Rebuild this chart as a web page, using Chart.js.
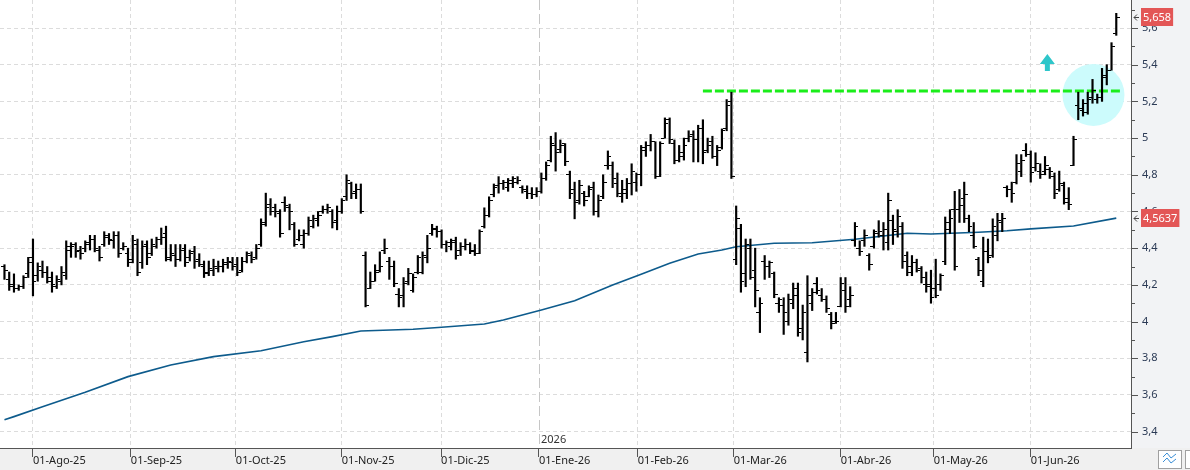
<html lang="es">
<head>
  <meta charset="utf-8">
  <script src="https://cdn.jsdelivr.net/npm/chart.js@4.4.1/dist/chart.umd.min.js"></script>
  <style>
    body { margin: 0; background: #fff; }
    canvas { display: block; }
  </style>
</head>
<body>
  <canvas id="price-chart" width="1190" height="470"></canvas>
<script>
  // daily bars, index 0 = first session of August 2025
  const firstIndex = -6;

  const opens = [
    4.30, 4.23, 4.20, 4.18, 4.19, 4.26,
    4.35, 4.25, 4.28, 4.27, 4.24, 4.19, 4.22, 4.25, 4.39, 4.42,
    4.39, 4.40, 4.43, 4.45, 4.39, 4.42, 4.46, 4.44, 4.47, 4.40,
    4.37, 4.34, 4.42, 4.32, 4.42, 4.37, 4.41, 4.45, 4.48, 4.35,
    4.36, 4.34, 4.40, 4.35, 4.38, 4.34, 4.30, 4.27, 4.28, 4.29,
    4.30, 4.31, 4.32, 4.31, 4.28, 4.33, 4.36, 4.35, 4.42, 4.54,
    4.64, 4.62, 4.59, 4.65, 4.62, 4.53, 4.45, 4.42, 4.48, 4.52,
    4.55, 4.60, 4.61, 4.60, 4.55, 4.60, 4.68, 4.75, 4.71, 4.72,
    4.36, 4.18, 4.22, 4.28, 4.39, 4.33, 4.30, 4.15, 4.14, 4.22,
    4.17, 4.27, 4.27, 4.35, 4.48, 4.50, 4.49, 4.42, 4.41, 4.44,
    4.39, 4.41, 4.42, 4.38, 4.37, 4.52, 4.58, 4.69, 4.74, 4.75,
    4.73, 4.75, 4.76, 4.73, 4.71, 4.70, 4.69, 4.71, 4.78, 4.88,
    4.96, 4.94, 4.97, 4.80, 4.72, 4.66, 4.70, 4.68, 4.73, 4.60,
    4.68, 4.85, 4.85, 4.75, 4.68, 4.70, 4.75, 4.76, 4.80, 4.95,
    4.96, 4.98, 4.79, 5.00, 5.10, 4.97, 4.88, 4.90, 5.00, 5.02,
    4.99, 5.05, 4.93, 4.98, 4.90, 4.95, 5.05, 5.20,
    4.34, 4.51, 4.26, 4.40, 4.28, 4.05, 4.33, 4.30, 4.26, 4.10,
    4.09, 4.00, 4.10, 4.14, 3.96, 3.83, 4.10, 4.21, 4.14, 4.12,
    4.04, 4.00, 4.08, 4.17, 4.12,
    4.44, 4.40, 4.44, 4.36, 4.41, 4.48, 4.47, 4.43, 4.55, 4.49,
    4.52, 4.36, 4.27, 4.32, 4.29, 4.20, 4.20, 4.18, 4.20, 4.33,
    4.54, 4.61, 4.61, 4.67, 4.56, 4.47, 4.34, 4.22, 4.38, 4.36, 4.47, 4.54,
    4.73, 4.72, 4.76, 4.82, 4.93, 4.91, 4.84, 4.82, 4.82, 4.83, 4.79, 4.72, 4.74, 4.65, 4.85,
    5.18, 5.15, 5.14, 5.22, 5.21, 5.22, 5.33, 5.37, 5.57
  ];

  const highs = [
    4.31, 4.27, 4.26, 4.20, 4.25, 4.35,
    4.45, 4.32, 4.33, 4.30, 4.27, 4.25, 4.30, 4.44, 4.43, 4.43,
    4.41, 4.44, 4.47, 4.47, 4.41, 4.49, 4.48, 4.49, 4.49, 4.43,
    4.40, 4.47, 4.45, 4.44, 4.44, 4.45, 4.46, 4.51, 4.52, 4.42,
    4.42, 4.42, 4.42, 4.39, 4.41, 4.37, 4.33, 4.33, 4.34, 4.33,
    4.34, 4.35, 4.35, 4.35, 4.35, 4.38, 4.38, 4.42, 4.56, 4.70,
    4.67, 4.64, 4.61, 4.68, 4.64, 4.54, 4.50, 4.50, 4.57, 4.58,
    4.60, 4.63, 4.64, 4.61, 4.63, 4.67, 4.80, 4.76, 4.75, 4.75,
    4.38, 4.27, 4.31, 4.38, 4.45, 4.35, 4.33, 4.18, 4.24, 4.29,
    4.26, 4.36, 4.38, 4.47, 4.53, 4.52, 4.50, 4.44, 4.45, 4.46,
    4.43, 4.45, 4.43, 4.42, 4.50, 4.62, 4.68, 4.75, 4.79, 4.77,
    4.78, 4.79, 4.79, 4.74, 4.74, 4.73, 4.73, 4.81, 4.87, 5.01,
    5.03, 4.99, 4.97, 4.82, 4.76, 4.77, 4.71, 4.74, 4.76, 4.69,
    4.80, 4.93, 4.87, 4.81, 4.77, 4.78, 4.86, 4.81, 4.96, 4.98,
    5.02, 4.98, 4.98, 5.11, 5.11, 4.99, 4.96, 5.00, 5.04, 5.04,
    5.07, 5.10, 5.00, 5.01, 4.96, 5.05, 5.21, 5.25,
    4.63, 4.53, 4.45, 4.45, 4.40, 4.13, 4.36, 4.33, 4.27, 4.13,
    4.13, 4.15, 4.21, 4.21, 4.09, 4.25, 4.18, 4.24, 4.18, 4.14,
    4.05, 4.05, 4.24, 4.24, 4.19,
    4.54, 4.44, 4.50, 4.37, 4.50, 4.55, 4.54, 4.70, 4.58, 4.61,
    4.54, 4.38, 4.36, 4.34, 4.30, 4.27, 4.28, 4.34, 4.26, 4.57,
    4.61, 4.71, 4.72, 4.76, 4.58, 4.54, 4.35, 4.46, 4.45, 4.56, 4.59, 4.59,
    4.74, 4.76, 4.91, 4.91, 4.97, 4.93, 4.92, 4.86, 4.90, 4.84, 4.81, 4.82, 4.76, 4.73, 5.01,
    5.25, 5.21, 5.25, 5.32, 5.24, 5.38, 5.40, 5.52, 5.68
  ];

  const lows = [
    4.23, 4.17, 4.16, 4.17, 4.18, 4.24,
    4.14, 4.22, 4.24, 4.21, 4.16, 4.18, 4.20, 4.23, 4.35, 4.35,
    4.34, 4.38, 4.39, 4.38, 4.33, 4.41, 4.42, 4.40, 4.35, 4.39,
    4.30, 4.32, 4.25, 4.29, 4.31, 4.36, 4.40, 4.42, 4.33, 4.33,
    4.30, 4.33, 4.30, 4.33, 4.29, 4.30, 4.24, 4.25, 4.25, 4.27,
    4.27, 4.29, 4.28, 4.25, 4.27, 4.32, 4.32, 4.34, 4.41, 4.52,
    4.58, 4.57, 4.46, 4.60, 4.50, 4.41, 4.44, 4.40, 4.47, 4.51,
    4.52, 4.59, 4.59, 4.51, 4.50, 4.59, 4.66, 4.67, 4.67, 4.59,
    4.08, 4.18, 4.22, 4.27, 4.37, 4.23, 4.19, 4.08, 4.08, 4.20,
    4.16, 4.26, 4.26, 4.32, 4.47, 4.46, 4.40, 4.38, 4.39, 4.34,
    4.36, 4.39, 4.37, 4.36, 4.37, 4.51, 4.57, 4.68, 4.70, 4.72,
    4.71, 4.73, 4.75, 4.70, 4.67, 4.67, 4.68, 4.70, 4.77, 4.87,
    4.82, 4.92, 4.85, 4.67, 4.56, 4.64, 4.63, 4.68, 4.58, 4.57,
    4.67, 4.83, 4.73, 4.68, 4.65, 4.67, 4.69, 4.71, 4.74, 4.90,
    4.93, 4.78, 4.79, 5.00, 4.97, 4.86, 4.87, 4.88, 4.98, 4.87,
    4.87, 4.86, 4.92, 4.89, 4.85, 4.94, 5.04, 4.78,
    4.31, 4.16, 4.19, 4.23, 4.08, 3.94, 4.23, 4.24, 4.13, 4.05,
    3.93, 3.98, 4.07, 3.92, 3.90, 3.78, 4.06, 4.15, 4.11, 4.05,
    3.96, 3.99, 4.08, 4.05, 4.08,
    4.41, 4.36, 4.41, 4.28, 4.40, 4.46, 4.39, 4.39, 4.42, 4.46,
    4.29, 4.25, 4.25, 4.27, 4.21, 4.16, 4.10, 4.13, 4.17, 4.31,
    4.48, 4.28, 4.54, 4.54, 4.49, 4.40, 4.25, 4.19, 4.32, 4.35, 4.44, 4.49,
    4.68, 4.65, 4.75, 4.79, 4.90, 4.76, 4.82, 4.78, 4.80, 4.78, 4.67, 4.71, 4.64, 4.61, 4.85,
    5.10, 5.12, 5.13, 5.19, 5.19, 5.20, 5.29, 5.37, 5.56
  ];

  const closes = [
    4.28, 4.19, 4.18, 4.19, 4.24, 4.32,
    4.22, 4.30, 4.27, 4.22, 4.20, 4.23, 4.27, 4.41, 4.41, 4.38,
    4.37, 4.42, 4.45, 4.40, 4.35, 4.47, 4.45, 4.47, 4.37, 4.41,
    4.32, 4.44, 4.27, 4.41, 4.35, 4.42, 4.45, 4.46, 4.34, 4.37,
    4.34, 4.39, 4.32, 4.37, 4.33, 4.31, 4.26, 4.29, 4.30, 4.30,
    4.32, 4.33, 4.30, 4.27, 4.33, 4.37, 4.34, 4.40, 4.53, 4.62,
    4.60, 4.60, 4.48, 4.63, 4.60, 4.42, 4.47, 4.48, 4.55, 4.56,
    4.58, 4.61, 4.62, 4.54, 4.60, 4.66, 4.77, 4.70, 4.72, 4.60,
    4.09, 4.22, 4.27, 4.30, 4.40, 4.30, 4.21, 4.13, 4.21, 4.26,
    4.24, 4.35, 4.36, 4.40, 4.51, 4.49, 4.42, 4.43, 4.43, 4.36,
    4.41, 4.42, 4.39, 4.37, 4.49, 4.58, 4.66, 4.73, 4.75, 4.76,
    4.77, 4.78, 4.77, 4.72, 4.70, 4.69, 4.71, 4.78, 4.85, 4.97,
    4.92, 4.96, 4.87, 4.70, 4.65, 4.74, 4.66, 4.72, 4.60, 4.66,
    4.76, 4.90, 4.78, 4.70, 4.72, 4.75, 4.82, 4.80, 4.93, 4.96,
    4.98, 4.79, 4.97, 5.08, 4.99, 4.88, 4.92, 4.96, 5.01, 4.99,
    5.05, 4.92, 4.96, 4.90, 4.93, 5.04, 5.18, 4.79,
    4.56, 4.22, 4.42, 4.24, 4.17, 4.10, 4.30, 4.32, 4.15, 4.12,
    4.05, 4.12, 4.18, 3.94, 4.05, 4.14, 4.16, 4.17, 4.12, 4.07,
    3.99, 4.00, 4.21, 4.08, 4.14,
    4.52, 4.38, 4.47, 4.31, 4.49, 4.49, 4.50, 4.66, 4.50, 4.57,
    4.33, 4.30, 4.32, 4.28, 4.24, 4.19, 4.13, 4.14, 4.25, 4.50,
    4.56, 4.30, 4.63, 4.69, 4.52, 4.41, 4.28, 4.38, 4.35, 4.52, 4.55, 4.56,
    4.72, 4.70, 4.86, 4.88, 4.91, 4.81, 4.86, 4.80, 4.85, 4.82, 4.70, 4.75, 4.67, 4.64, 4.99,
    5.16, 5.19, 5.21, 5.26, 5.22, 5.34, 5.37, 5.50, 5.658
  ];

  // moving average, read at a few sessions
  const maIndex  = [-6, -4, 2, 11, 20, 29, 38, 48, 57, 63, 69, 80, 86, 95, 99, 107, 114, 122, 128, 134, 140, 145, 148, 156, 164, 173, 184, 189, 199, 205, 210, 219, 228];
  const maValues = [3.465, 3.482, 3.536, 3.615, 3.700, 3.763, 3.809, 3.841, 3.890, 3.918, 3.949, 3.958, 3.969, 3.987, 4.009, 4.063, 4.114, 4.199, 4.258, 4.318, 4.368, 4.390, 4.408, 4.427, 4.430, 4.449, 4.481, 4.477, 4.487, 4.495, 4.505, 4.521, 4.5637];

  const monthLabels  = ['01-Ago-25', '01-Sep-25', '01-Oct-25', '01-Nov-25', '01-Dic-25', '01-Ene-26', '01-Feb-26', '01-Mar-26', '01-Abr-26', '01-May-26', '01-Jun-26'];
  const monthTickPos = [0, 20.6, 42.7, 65, 85.9, 106.5, 127.3, 147.5, 170, 189.6, 210];
  const yearTickPos = 106.5;
  const yearLabel = '2026';

  const yTickValues = [3.4, 3.5, 3.6, 3.7, 3.8, 3.9, 4.0, 4.1, 4.2, 4.3, 4.4, 4.5, 4.6, 4.7, 4.8, 4.9, 5.0, 5.1, 5.2, 5.3, 5.4, 5.5, 5.6, 5.7];

  // resistance line and marks
  const resistance = 5.257, resistanceFrom = 141, resistanceTo = 229.2;
  const circleIndex = 223.2, circleValue = 5.235;
  const arrowIndex = 213.5, arrowValue = 5.458;

  const xMin = -6.94, xMax = 231.1;
  const yMin = 3.311, yMax = 5.7526;

  Chart.defaults.font.family = '"Noto Sans", sans-serif';

  const days = highs.map((h, k) => firstIndex + k);

  function isMajor(v) { return Math.round(v * 10) % 2 === 0; }
  function fmt(v) { return String(v).replace('.', ','); }

  function tickMark(side) {
    const c = document.createElement('canvas');
    c.width = 7; c.height = 1;
    const g = c.getContext('2d');
    g.fillStyle = '#000';
    g.fillRect(side == 'open' ? 0 : 4, 0, 3, 1);
    return c;
  }

  function valueBox(ctx, text, py, x0) {
    ctx.font = '11px "Noto Sans"';
    const w = ctx.measureText(text).width + 4;
    const top = Math.round(py) - 9;
    ctx.fillStyle = '#e35656';
    ctx.fillRect(x0 + 10, top, w, 18);
    ctx.fillStyle = '#fff';
    ctx.textBaseline = 'middle';
    ctx.textAlign = 'left';
    ctx.fillText(text, x0 + 12, top + 9.5);
    ctx.strokeStyle = '#444';
    ctx.lineWidth = 1;
    const yy = Math.round(py) + 0.5;
    ctx.beginPath();
    ctx.moveTo(x0 + 6, yy - 3); ctx.lineTo(x0 + 3, yy); ctx.lineTo(x0 + 6, yy + 3);
    ctx.moveTo(x0 + 3, yy); ctx.lineTo(x0 + 8, yy);
    ctx.stroke();
  }

  const decor = {
    id: 'decor',
    beforeDraw(chart) {
      const {ctx, width, height, chartArea: a} = chart;
      ctx.save();
      ctx.fillStyle = '#fff';
      ctx.fillRect(0, 0, width, height);
      ctx.fillStyle = '#f0f0f0';
      ctx.fillRect(0, a.bottom, width, height - a.bottom);
      ctx.fillStyle = '#f2f3f5';
      ctx.fillRect(a.right, 0, width - a.right, a.bottom);
      ctx.restore();
    },
    beforeDatasetsDraw(chart) {
      const {ctx, chartArea: a, scales: {x, y}} = chart;
      ctx.save();
      // year separator
      const yx = Math.round(x.getPixelForValue(yearTickPos)) + 0.5;
      ctx.strokeStyle = '#c6c6c6';
      ctx.lineWidth = 1;
      ctx.setLineDash([10, 4]);
      ctx.beginPath(); ctx.moveTo(yx, a.top); ctx.lineTo(yx, a.bottom); ctx.stroke();
      ctx.setLineDash([]);
      ctx.fillStyle = '#333';
      ctx.font = '11px "Noto Sans"';
      ctx.textBaseline = 'alphabetic';
      ctx.fillText(yearLabel, yx + 1.5, a.bottom - 5);
      // highlight circle
      ctx.fillStyle = '#ccfbfc';
      ctx.beginPath();
      ctx.arc(x.getPixelForValue(circleIndex), y.getPixelForValue(circleValue), 31, 0, Math.PI * 2);
      ctx.fill();
      // up arrow
      const ax = x.getPixelForValue(arrowIndex), ay = y.getPixelForValue(arrowValue);
      ctx.fillStyle = '#2ec6ca';
      ctx.beginPath();
      ctx.moveTo(ax, ay);
      ctx.lineTo(ax + 7.5, ay + 10); ctx.lineTo(ax + 2.5, ay + 10); ctx.lineTo(ax + 2.5, ay + 17);
      ctx.lineTo(ax - 2.5, ay + 17); ctx.lineTo(ax - 2.5, ay + 10); ctx.lineTo(ax - 7.5, ay + 10);
      ctx.closePath();
      ctx.fill();
      ctx.restore();
    },
    afterDraw(chart) {
      const {ctx, chartArea: a, scales: {y}} = chart;
      ctx.save();
      ctx.strokeStyle = '#555';
      ctx.lineWidth = 1;
      yTickValues.forEach(v => {
        const py = Math.round(y.getPixelForValue(v)) + 0.5;
        ctx.beginPath();
        ctx.moveTo(a.right, py);
        ctx.lineTo(a.right + (isMajor(v) ? 7 : 4), py);
        ctx.stroke();
      });
      valueBox(ctx, fmt(closes[closes.length - 1]), y.getPixelForValue(closes[closes.length - 1]), a.right);
      valueBox(ctx, fmt(maValues[maValues.length - 1]), y.getPixelForValue(maValues[maValues.length - 1]), a.right);
      // little toolbar buttons bottom right
      ctx.fillStyle = '#fff';
      ctx.strokeStyle = '#a0a0a0';
      ctx.fillRect(1158.5, 450.5, 23, 18);
      ctx.strokeRect(1158.5, 450.5, 23, 18);
      ctx.fillRect(1185.5, 450.5, 10, 18);
      ctx.strokeRect(1185.5, 450.5, 10, 18);
      ctx.strokeStyle = '#3b8fd6';
      ctx.beginPath();
      ctx.moveTo(1163, 457); ctx.lineTo(1167, 453); ctx.lineTo(1171, 458); ctx.lineTo(1176, 454);
      ctx.moveTo(1163, 462); ctx.lineTo(1167, 458); ctx.lineTo(1171, 463); ctx.lineTo(1176, 459);
      ctx.stroke();
      ctx.restore();
    }
  };

  new Chart(document.getElementById('price-chart'), {
    type: 'bar',
    data: {
      datasets: [
        {
          type: 'bar',
          data: days.map((d, k) => ({x: d, y: [lows[k], highs[k]]})),
          backgroundColor: '#000',
          barThickness: 1.5,
          order: 0
        },
        {
          type: 'line',
          data: days.map((d, k) => ({x: d, y: opens[k]})),
          showLine: false,
          pointStyle: tickMark('open'),
          pointRadius: 2,
          order: 1
        },
        {
          type: 'line',
          data: days.map((d, k) => ({x: d, y: closes[k]})),
          showLine: false,
          pointStyle: tickMark('close'),
          pointRadius: 2,
          order: 1
        },
        {
          type: 'line',
          data: maIndex.map((d, k) => ({x: d, y: maValues[k]})),
          borderColor: '#0d5b8c',
          borderWidth: 1.6,
          pointRadius: 0,
          order: 2
        },
        {
          type: 'line',
          data: [{x: resistanceFrom, y: resistance}, {x: resistanceTo, y: resistance}],
          borderColor: '#1aee1a',
          borderWidth: 3,
          borderDash: [9, 3],
          pointRadius: 0,
          order: 3
        }
      ]
    },
    options: {
      responsive: false,
      animation: false,
      events: [],
      layout: { padding: 0, autoPadding: false },
      plugins: { legend: { display: false }, tooltip: { enabled: false } },
      scales: {
        x: {
          type: 'linear',
          min: xMin,
          max: xMax,
          offset: false,
          afterBuildTicks: s => { s.ticks = monthTickPos.map(v => ({value: v})); },
          afterFit: s => { s.height = 22; s.paddingLeft = 0; s.paddingRight = 0; },
          grid: {
            offset: false,
            color: c => (c.tick && c.tick.value === yearTickPos) ? 'rgba(0,0,0,0)' : '#dcdcdc',
            tickColor: '#555',
            tickLength: 9,
            tickBorderDash: []
          },
          border: { color: '#555', dash: [4, 3] },
          ticks: {
            autoSkip: false,
            maxRotation: 0,
            minRotation: 0,
            align: 'start',
            padding: -3,
            color: '#222',
            font: { size: 11 },
            callback: (v, i) => monthLabels[i]
          }
        },
        y: {
          position: 'right',
          min: yMin,
          max: yMax,
          afterBuildTicks: s => { s.ticks = yTickValues.map(v => ({value: v})); },
          afterFit: s => { s.width = 59; s.paddingTop = 0; s.paddingBottom = 0; },
          grid: {
            color: c => (c.tick && isMajor(c.tick.value)) ? '#dcdcdc' : 'rgba(0,0,0,0)',
            drawTicks: false
          },
          border: { color: '#555', dash: [4, 3] },
          ticks: {
            padding: 11,
            color: '#2b3a55',
            font: { size: 11 },
            callback: v => isMajor(v) ? fmt(Math.round(v * 10) / 10) : ''
          }
        }
      }
    },
    plugins: [decor]
  });
</script>
</body>
</html>
